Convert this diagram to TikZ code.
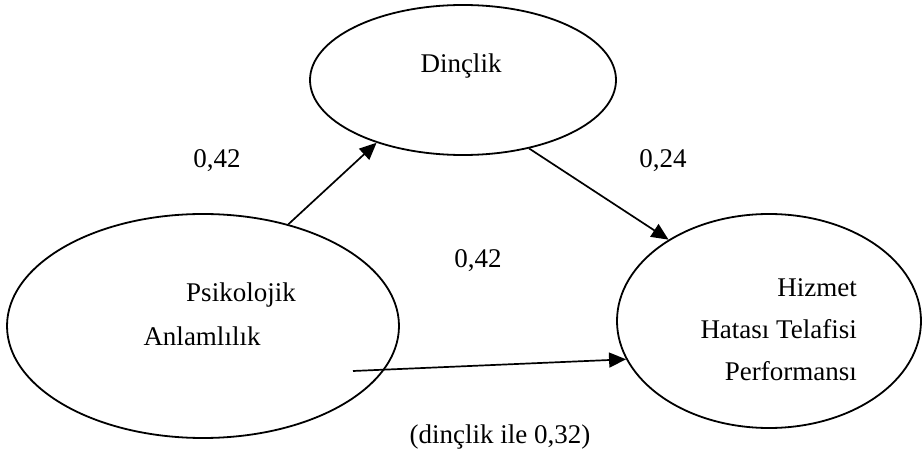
\documentclass[tikz,border=0pt]{standalone}
\usepackage{fontspec}
\setmainfont{Liberation Serif}
\usetikzlibrary{shapes.geometric,arrows.meta}

\begin{document}
\begin{tikzpicture}[x=1pt,y=-1pt,
    latent/.style={draw, ellipse, line width=1.8pt, inner sep=0pt},
    txt/.style={anchor=base, inner sep=0pt, font=\fontsize{27}{32}\selectfont},
    effect/.style={-{Triangle[length=17pt,width=15pt]}, line width=1.7pt}]

\useasboundingbox (0,0) rectangle (922,457);

% Latent variables (ellipses)
\node [latent, minimum width=306pt, minimum height=150pt] (din) at (463,80) {};
\node [latent, minimum width=392pt, minimum height=224pt] (pa) at (203,326) {};
\node [latent, minimum width=304pt, minimum height=214pt] (hz) at (769,321) {};

% Names of the variables
\node [txt] (dint) at (461,73) {Dinçlik};
\node [txt] (pat1) at (241,302) {Psikolojik};
\node [txt] (pat2) at (202,346) {Anlamlılık};
\node [txt, anchor=base east] (hzt1) at (857,297) {Hizmet};
\node [txt, anchor=base east] (hzt2) at (857,339) {Hatası Telafisi};
\node [txt, anchor=base east] (hzt3) at (857,381) {Performansı};

% Paths between the variables
\draw [effect] (pa.50) -- (din.216);
\draw [effect] (din.-46) -- (hz.141);
\coordinate (pin) at (353,371);
\draw [effect] (pin) -- (hz.195);

% Coefficients
\node [txt] (c1) at (217,168) {0,42};
\node [txt] (c2) at (663,168) {0,24};
\node [txt] (c3) at (478,268) {0,42};
\node [txt] (c4) at (500,443) {(dinçlik ile 0,32)};

\end{tikzpicture}
\end{document}
